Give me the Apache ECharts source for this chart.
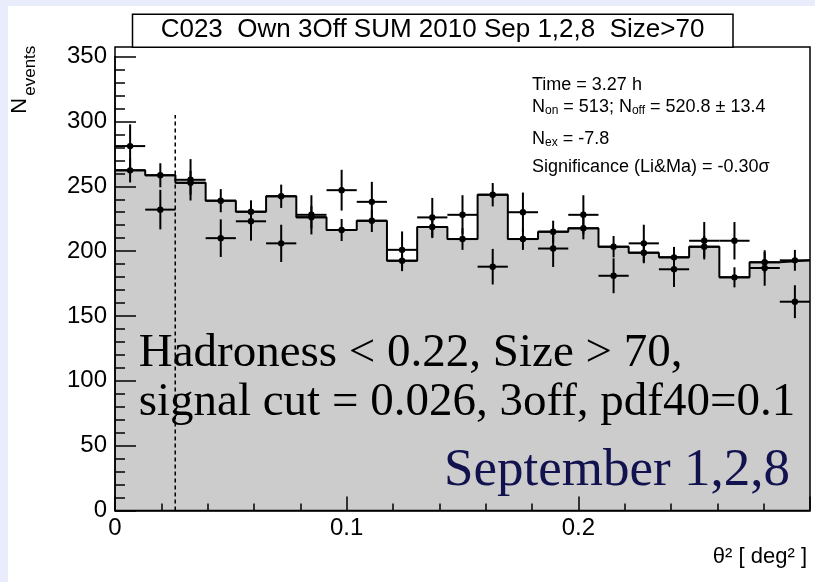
<!DOCTYPE html>
<html>
<head>
<meta charset="utf-8">
<title>C023 Own 3Off SUM 2010 Sep 1,2,8 Size&gt;70</title>
<script src="https://cdn.jsdelivr.net/npm/echarts@6.0.0/dist/echarts.min.js"></script>
<style>
  html, body { margin: 0; padding: 0; background: #e9ecfb; }
  #chart { width: 815px; height: 582px; }
</style>
</head>
<body>
<div id="chart"></div>
<script>
// theta^2 histogram binning
const nBins = 23;
const xMin = 0;
const xMax = 0.3;

// ON-source counts per bin
const onCounts = [281, 232, 255, 210, 223, 206, 228, 247, 238, 201, 226, 228,
                  188, 230, 202, 228, 181, 206, 186, 208, 208, 187, 161];
// OFF counts per bin (average of 3 off regions)
const offCounts = [262.3, 258.5, 252.7, 238.9, 230.4, 242.3, 226.1, 216.3, 223.4,
                   192.6, 218.6, 209.3, 243.5, 209.3, 215.0, 217.6, 203.4, 198.8,
                   195.2, 203.4, 179.8, 191.4, 192.9];
const nOffRegions = 3;

// signal cut and the height of its marker line
const signalCut = 0.026;
const cutLineTop = 305;

// axis ticks
const xTicks = [0, 0.1, 0.2];
const yTicks = [0, 50, 100, 150, 200, 250, 300, 350];

// texts
const titleText = 'C023  Own 3Off SUM 2010 Sep 1,2,8  Size>70';
const statsTime = 'Time = 3.27 h';
const statsCounts = '{n|N}{s|on}{n| = 513; N}{s|off}{n| = 520.8 \u00b1 13.4}';
const statsExcess = '{n|N}{s|ex}{n| = -7.8}';
const statsSignif = 'Significance (Li&Ma) = -0.30\u03c3';
const cutsLine1 = 'Hadroness < 0.22, Size > 70,';
const cutsLine2 = 'signal cut = 0.026, 3off, pdf40=0.1';
const periodText = 'September 1,2,8';

const binWidth = (xMax - xMin) / nBins;

// step outline of the OFF histogram (left bin edges + closing edge)
const offStep = offCounts.map((v, i) => [xMin + i * binWidth, v]);
offStep.push([xMax, offCounts[nBins - 1]]);

// [low edge, high edge, value, Poisson error]
const offPoints = offCounts.map((v, i) => [xMin + i * binWidth, xMin + (i + 1) * binWidth, v, Math.sqrt(v / nOffRegions)]);
const onPoints = onCounts.map((v, i) => [xMin + i * binWidth, xMin + (i + 1) * binWidth, v, Math.sqrt(v)]);

function renderErrorBar(params, api) {
  const lo = api.value(0), hi = api.value(1), v = api.value(2), e = api.value(3);
  const xc = (lo + hi) / 2;
  const pL = api.coord([lo, v]);
  const pR = api.coord([hi, v]);
  const pT = api.coord([xc, v + e]);
  const pB = api.coord([xc, v - e]);
  const pC = api.coord([xc, v]);
  const ls = { stroke: '#000', lineWidth: 2 };
  return {
    type: 'group',
    children: [
      { type: 'line', shape: { x1: pL[0], y1: pL[1], x2: pR[0], y2: pR[1] }, style: ls },
      { type: 'line', shape: { x1: pT[0], y1: pT[1], x2: pB[0], y2: pB[1] }, style: ls },
      { type: 'circle', shape: { cx: pC[0], cy: pC[1], r: 3.2 }, style: { fill: '#000' } }
    ]
  };
}

const sans = 'Liberation Sans, Arial, Helvetica, sans-serif';
const serif = 'Liberation Serif, Times New Roman, serif';

const chart = echarts.init(document.getElementById('chart'), null, { renderer: 'canvas' });

const GRID = { left: 115, right: 5, top: 56.6, bottom: 71.5 };

chart.setOption({
  animation: false,
  backgroundColor: 'transparent',
  grid: Object.assign({ containLabel: false, outerBoundsMode: 'none' }, GRID),
  xAxis: {
    type: 'value',
    z: 10,
    min: xMin,
    max: xMax,
    interval: 0.1,
    axisLine: { show: true, onZero: false, lineStyle: { color: '#000', width: 1.5 } },
    axisTick: { show: true, inside: true, length: 14, lineStyle: { color: '#000', width: 1.5 } },
    minorTick: { show: true, splitNumber: 5, length: 7, lineStyle: { color: '#000', width: 1.5 } },
    splitLine: { show: false },
    minorSplitLine: { show: false },
    axisLabel: {
      show: true,
      margin: 6,
      color: '#000',
      fontFamily: sans,
      fontSize: 24,
      formatter: function (v) {
        const hit = xTicks.find(t => Math.abs(t - v) < 1e-9);
        return hit === undefined ? '' : String(hit);
      }
    }
  },
  yAxis: {
    type: 'value',
    z: 10,
    min: yTicks[0],
    max: yTicks[yTicks.length - 1],
    interval: 50,
    axisLine: { show: true, onZero: false, lineStyle: { color: '#000', width: 1.5 } },
    axisTick: { show: true, inside: true, length: 21, lineStyle: { color: '#000', width: 1.5 } },
    minorTick: { show: true, splitNumber: 5, length: 10, lineStyle: { color: '#000', width: 1.5 } },
    splitLine: { show: false },
    minorSplitLine: { show: false },
    axisLabel: {
      show: true,
      margin: 8,
      color: '#000',
      fontFamily: sans,
      fontSize: 24,
      formatter: function (v) {
        return yTicks.indexOf(v) >= 0 ? String(v) : '';
      }
    }
  },
  series: [
    {
      name: 'OFF histogram',
      type: 'line',
      step: 'end',
      data: offStep,
      symbol: 'none',
      z: 1,
      lineStyle: { color: '#000', width: 2 },
      areaStyle: { color: '#cccccc', opacity: 1 },
      silent: true
    },
    {
      name: 'signal cut',
      type: 'line',
      data: [[signalCut, 0], [signalCut, cutLineTop]],
      symbol: 'none',
      z: 3,
      lineStyle: { color: '#000', width: 1.5, type: [4, 3] },
      silent: true
    },
    {
      name: 'OFF points',
      type: 'custom',
      data: offPoints,
      renderItem: renderErrorBar,
      encode: { x: [0, 1], y: 2 },
      z: 4,
      silent: true
    },
    {
      name: 'ON points',
      type: 'custom',
      data: onPoints,
      renderItem: renderErrorBar,
      encode: { x: [0, 1], y: 2 },
      z: 5,
      silent: true
    }
  ],
  graphic: [
    // page panel
    { type: 'rect', z: -10, silent: true, shape: { x: 8, y: 6, width: 807, height: 576 }, style: { fill: '#ffffff' } },
    // plot frame
    { type: 'rect', z: 20, silent: true, shape: { x: 115, y: 47, width: 695, height: 463.5 }, style: { fill: null, stroke: '#000', lineWidth: 1.5 } },
    // title box
    { type: 'rect', z: 21, silent: true, shape: { x: 132.5, y: 14.3, width: 600.5, height: 33 }, style: { fill: '#fff', stroke: '#000', lineWidth: 1.5 } },
    { type: 'text', z: 22, silent: true, x: 432.5, y: 30, style: { text: titleText, fontFamily: sans, fontSize: 26, fill: '#000', align: 'center', verticalAlign: 'middle' } },
    // statistics
    { type: 'text', z: 22, silent: true, x: 532, y: 84.7, style: { text: statsTime, fontFamily: sans, fontSize: 18, fill: '#000', align: 'left', verticalAlign: 'middle' } },
    {
      type: 'text', z: 22, silent: true, x: 532, y: 98.4,
      style: {
        text: statsCounts, align: 'left', verticalAlign: 'top',
        rich: {
          n: { fontFamily: sans, fontSize: 18, lineHeight: 18, fill: '#000', verticalAlign: 'top' },
          s: { fontFamily: sans, fontSize: 12, lineHeight: 12, fill: '#000', verticalAlign: 'bottom', padding: [10, 0, 0, 0] }
        }
      }
    },
    {
      type: 'text', z: 22, silent: true, x: 532, y: 130.4,
      style: {
        text: statsExcess, align: 'left', verticalAlign: 'top',
        rich: {
          n: { fontFamily: sans, fontSize: 18, lineHeight: 18, fill: '#000', verticalAlign: 'top' },
          s: { fontFamily: sans, fontSize: 12, lineHeight: 12, fill: '#000', verticalAlign: 'bottom', padding: [10, 0, 0, 0] }
        }
      }
    },
    { type: 'text', z: 22, silent: true, x: 532, y: 167.4, style: { text: statsSignif, fontFamily: sans, fontSize: 18, fill: '#000', align: 'left', verticalAlign: 'middle' } },
    // axis titles
    { type: 'text', z: 22, silent: true, x: 20, y: 105.7, rotation: Math.PI / 2, style: { text: 'N', fontFamily: sans, fontSize: 22, fill: '#000', align: 'center', verticalAlign: 'middle' } },
    { type: 'text', z: 22, silent: true, x: 30, y: 70.7, rotation: Math.PI / 2, style: { text: 'events', fontFamily: sans, fontSize: 17, fill: '#000', align: 'center', verticalAlign: 'middle' } },
    { type: 'text', z: 22, silent: true, x: 807, y: 557, style: { text: '\u03b8\u00b2 [ deg\u00b2 ]', fontFamily: sans, fontSize: 22, fill: '#000', align: 'right', verticalAlign: 'middle' } },
    // cut annotations
    { type: 'text', z: 22, silent: true, x: 138.7, y: 354, style: { text: cutsLine1, fontFamily: serif, fontSize: 47, fill: '#000', align: 'left', verticalAlign: 'middle' } },
    { type: 'text', z: 22, silent: true, x: 138.7, y: 403, style: { text: cutsLine2, fontFamily: serif, fontSize: 47, fill: '#000', align: 'left', verticalAlign: 'middle' } },
    { type: 'text', z: 22, silent: true, x: 790, y: 471, style: { text: periodText, fontFamily: serif, fontSize: 53, fill: '#12124f', align: 'right', verticalAlign: 'middle' } }
  ]
});
</script>
</body>
</html>
